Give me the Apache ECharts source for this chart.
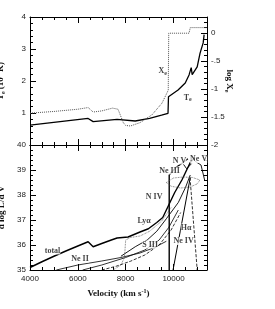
<!DOCTYPE html>
<html><head><meta charset="utf-8">
<script src="https://cdn.jsdelivr.net/npm/echarts@6/dist/echarts.min.js"></script>
<style>html,body{margin:0;padding:0;background:#fff}#c{width:275px;height:309px}</style>
</head><body><div id="c"></div>
<script>
// ---- data ----
const velTicks = [4000, 6000, 8000, 10000];
const teCurve = [[4000,0.62],[6430,0.83],[6640,0.73],[7640,0.8],[7700,0.76],[8400,0.75],[9000,0.83],[9500,0.93],[9770,0.99],[9790,1.51],[10190,1.72],[10490,1.94],[10650,2.19],[10740,2.42],[10780,2.2],[10990,2.44],[11110,2.87],[11240,3.19],[11280,3.45]];
const xeCurve = [[4000,-1.43],[5000,-1.4],[6000,-1.36],[6430,-1.33],[6640,-1.41],[7000,-1.39],[7450,-1.34],[7680,-1.36],[7900,-1.6],[8000,-1.65],[8200,-1.66],[8600,-1.6],[9100,-1.46],[9520,-1.25],[9780,-1.02],[9800,0],[10650,0],[10700,0.1],[11400,0.1]];
const totalCurve = [[4000,35.1],[4500,35.33],[5000,35.55],[5500,35.76],[6000,35.96],[6430,36.13],[6640,35.93],[7000,36.06],[7400,36.2],[7640,36.28],[8100,36.32],[8600,36.52],[8950,36.65],[9300,36.9],[9550,37.1],[9800,37.6],[10050,38.1],[10350,38.6],[10500,38.9],[10700,39.3],[10900,39.5]];
const neIICurve = [[5100,35],[6000,35.2],[7000,35.36],[7800,35.5],[8600,35.68],[9200,35.9],[9700,36.15]];
const lyaCurve = [[7800,35.55],[8400,35.93],[8900,36.2],[9300,36.55],[9700,37.05],[10200,37.7],[10500,38.3],[10700,38.8]];
const sIIICurve = [[6200,35],[7000,35.2],[8000,35.5],[8800,35.8],[9400,36.2],[9800,36.7],[10200,37.4]];
const dottedCurve = [[7470,35],[7800,35.2],[7950,35.5],[8000,36.2],[8200,36.3],[8600,36.36],[9000,36.55],[9500,36.95],[9900,37.5]];
const dashedCurve = [[7000,35],[7600,35.15],[8200,35.35],[8800,35.6],[9400,36.0],[9900,36.6],[10300,37.3]];
const neIIICurve = [[9820,35],[9820,38.8],[10100,39.1],[10400,39.3],[10600,39.45]];
const nVCurve = [[10400,39.25],[10550,39.05],[10750,39.25]];
const neVCurve = [[10900,39.35],[11150,39.2],[11300,38.6]];
const neIVCurve = [[9980,35],[10700,38.7]];
const haCurve = [[10690,38.7],[10990,35]];
const loopCurve = [[9700,38.5],[9900,38.35],[10300,38.28],[10700,38.32],[11000,38.45],[11100,38.6],[10800,38.7],[10400,38.72],[10000,38.68],[9700,38.5]];
const topNotes = [[9544,2.3,'{b|X}{s|e}'],[10590,1.48,'{b|T}{s|e}']];
const bottomNotes = [[4941,35.78,'total'],[6092,35.46,'Ne II'],[8770,36.96,'Lyα'],[9021,36.02,'S III'],[9188,37.94,'N IV'],[9837,38.98,'Ne III'],[10255,39.38,'N V'],[11050,39.44,'Ne V'],[10423,36.16,'Ne IV'],[10527,36.7,'Hα']];

// ---- chart ----
const chart = echarts.init(document.getElementById('c'), null, {renderer:'canvas'});
const AX = '#000';
const labFont = {fontSize:8, color:'#222', fontFamily:'Liberation Sans'};
const rich = {
  b:{fontFamily:'Liberation Serif', fontWeight:'bold', fontSize:9, color:'#111'},
  s:{fontFamily:'Liberation Serif', fontWeight:'bold', fontSize:6, color:'#111', verticalAlign:'bottom', padding:[4,0,0,0]},
  p:{fontFamily:'Liberation Serif', fontWeight:'bold', fontSize:6, color:'#111', padding:[0,0,5,0]}
};
function xAxesFor(g, withLabels){
  const base = {type:'value', gridIndex:g, min:4000, max:11400, splitLine:{show:false}};
  const major = (pos, labels) => Object.assign({}, base, {position:pos, interval:2000,
    axisLine:{show:true, onZero:false, lineStyle:{color:AX, width:1}},
    axisTick:{show:true, inside:true, length:6, lineStyle:{color:AX}},
    axisLabel:Object.assign({show:labels, showMaxLabel:false, margin:5, formatter:v=>String(v)}, labFont)});
  const minor = (pos) => Object.assign({}, base, {position:pos, interval:500,
    axisLine:{show:false, onZero:false}, axisTick:{show:true, inside:true, length:3, lineStyle:{color:AX}},
    axisLabel:{show:false}});
  const m = major('bottom', withLabels);
  if (withLabels) {
    m.name = '{b|Velocity (km s}{p|-1}{b|)}';
    m.nameLocation = 'middle'; m.nameGap = 18;
    m.nameTextStyle = {rich:rich};
  }
  return [m, minor('bottom'), major('top', false), minor('top')];
}
function yAxesFor(g, pos, min, max, majorI, minorI, labelOpts, name){
  const base = {type:'value', gridIndex:g, min:min, max:max, position:pos, splitLine:{show:false}};
  const m = Object.assign({}, base, {interval:majorI,
    axisLine:{show:true, onZero:false, lineStyle:{color:AX, width:1}},
    axisTick:{show:true, inside:true, length:6, lineStyle:{color:AX}},
    axisLabel:Object.assign({margin:4}, labFont, labelOpts)});
  if (name) Object.assign(m, name);
  const n = Object.assign({}, base, {interval:minorI,
    axisLine:{show:false, onZero:false}, axisTick:{show:true, inside:true, length:3, lineStyle:{color:AX}},
    axisLabel:{show:false}});
  return [m, n];
}
const xAxis = [].concat(xAxesFor(0,false), xAxesFor(1,true));
const yAxis = [].concat(
  yAxesFor(0,'left',0,4,1,0.2,{show:true, showMinLabel:false, showMaxLabel:true},
    {name:'{b|T}{s|e}{b| (10}{p|4}{b| K)}', nameLocation:'middle', nameRotate:90, nameGap:24, nameTextStyle:{rich:rich}}),
  yAxesFor(0,'right',-2,0.29,0.5,0.1,{show:true, showMaxLabel:false, formatter:v=>v===0?'0':(v>-1&&v<0?String(v).replace('0.','.'):String(v))},
    {name:'{b|log X}{s|e}', nameLocation:'middle', nameRotate:-90, nameGap:17, nameMoveOverlap:false, nameTextStyle:{rich:rich}}),
  yAxesFor(1,'left',35,40,1,0.2,{show:true},
    {name:'{b|d log L/d V}', nameLocation:'middle', nameRotate:90, nameGap:24, nameTextStyle:{rich:rich}}),
  yAxesFor(1,'right',35,40,1,0.2,{show:false})
);
function line(data, xi, yi, style, extra){
  return Object.assign({type:'line', xAxisIndex:xi, yAxisIndex:yi, data:data, showSymbol:false, symbol:'none',
    lineStyle:Object.assign({color:'#000', width:1}, style), silent:true, animation:false, z:3}, extra||{});
}
function notes(list, xi, yi){
  return {type:'scatter', xAxisIndex:xi, yAxisIndex:yi, symbolSize:0, silent:true, animation:false, z:5,
    data:list.map(n=>({value:[n[0],n[1]], name:n[2]})),
    label:{show:true, position:'inside', formatter:p=>p.name.indexOf('{')===0?p.name:'{b|'+p.name+'}', rich:Object.assign({}, rich, {b:Object.assign({}, rich.b, {fontSize:8, backgroundColor:'#fff'})})}};
}
const series = [
  line(teCurve, 0, 0, {width:1.3}),
  line(xeCurve, 0, 2, {width:1, type:'dotted', color:'#555'}),
  line(totalCurve, 4, 4, {width:1.4}),
  line(neIICurve, 4, 4, {width:0.8}),
  line(lyaCurve, 4, 4, {width:0.9}),
  line(sIIICurve, 4, 4, {width:0.8}),
  line(dottedCurve, 4, 4, {width:0.8, type:'dotted', color:'#555'}),
  line(dashedCurve, 4, 4, {width:0.8, type:'dashed'}),
  line(neIIICurve, 4, 4, {width:1.4}),
  line(nVCurve, 4, 4, {width:0.9}),
  line(neVCurve, 4, 4, {width:0.9}),
  line(neIVCurve, 4, 4, {width:1}),
  line(haCurve, 4, 4, {width:0.8, type:'dashed'}),
  line(loopCurve, 4, 4, {width:0.8, type:'dotted', color:'#555'}),
  notes(topNotes, 0, 0),
  notes(bottomNotes, 4, 4)
];
chart.setOption({
  backgroundColor:'#fff', animation:false,
  grid:[{left:30, right:68, top:17, height:128, outerBoundsMode:'none'}, {left:30, right:68, top:145, height:125, outerBoundsMode:'none'}],
  xAxis:xAxis, yAxis:yAxis, series:series
});
</script></body></html>
